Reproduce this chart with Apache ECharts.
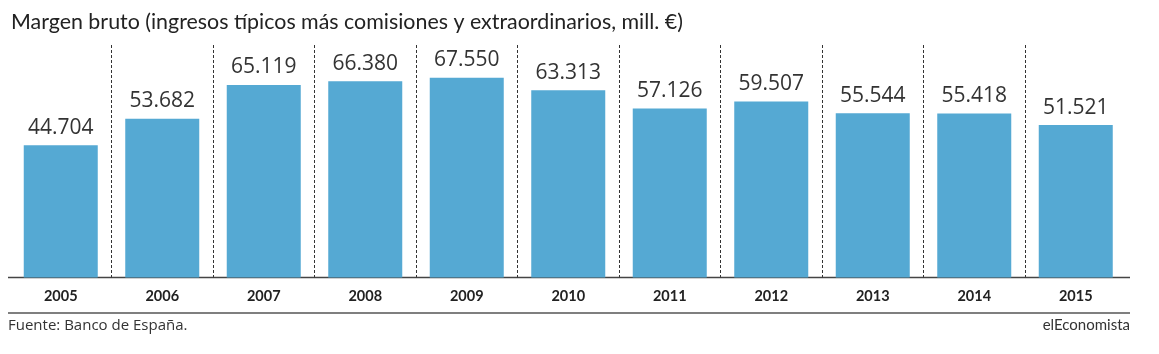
<!DOCTYPE html>
<html>
<head>
<meta charset="utf-8">
<script src="https://cdn.jsdelivr.net/npm/echarts@6/dist/echarts.min.js"></script>
<style>html,body{margin:0;padding:0;background:#fff;}#c{width:1159px;height:354px;}</style>
</head>
<body>
<div id="c"></div>
<script>
const categories = ['2005','2006','2007','2008','2009','2010','2011','2012','2013','2014','2015'];
const values = [44704, 53682, 65119, 66380, 67550, 63313, 57126, 59507, 55544, 55418, 51521];
const titleText = 'Margen bruto (ingresos típicos más comisiones y extraordinarios, mill. €)';
const sourceText = 'Fuente: Banco de España.';
const brandText = 'elEconomista';

function fmt(v){ return String(v).replace(/\B(?=(\d{3})+(?!\d))/g, '.'); }

const chart = echarts.init(document.getElementById('c'));
chart.setOption({
  animation: false,
  backgroundColor: '#fff',
  title: {
    text: titleText, left: 6, top: 7,
    textStyle: { fontFamily: 'Lato', fontSize: 21.4, fontWeight: 'normal', color: '#222' }
  },
  grid: { left: 10, right: 32.5, top: 45, bottom: 76.5 },
  xAxis: {
    type: 'category', data: categories,
    axisLine: { show: false },
    axisTick: { show: false },
    axisLabel: { fontFamily: 'Lato', fontWeight: 'bold', fontSize: 14.5, color: '#222', margin: 11 },
    splitLine: { show: true, showMinLine: false, showMaxLine: false, lineStyle: { color: '#333', type: [3, 2], width: 1 } }
  },
  yAxis: { type: 'value', min: 0, max: 78600, show: false, splitLine: { show: false } },
  series: [{
    type: 'bar', data: values, barWidth: 74,
    itemStyle: { color: '#55a9d3' },
    label: {
      show: true, position: 'top', distance: 7,
      fontFamily: 'Open Sans', fontSize: 21, color: '#333',
      formatter: p => fmt(p.value)
    }
  }],
  graphic: [
    { type: 'line', shape: { x1: 8, y1: 277.5, x2: 1130, y2: 277.5 }, style: { stroke: '#444', lineWidth: 1.5 } },
    { type: 'line', shape: { x1: 8, y1: 313, x2: 1130, y2: 313 }, style: { stroke: '#555', lineWidth: 1.5 } },
    { type: 'text', left: 8, top: 318, style: { text: sourceText, font: '15px "Open Sans"', fill: '#333' } },
    { type: 'text', right: 29, top: 318, style: { text: brandText, font: '15px Lato', fill: '#333' } }
  ]
});
</script>
</body>
</html>
